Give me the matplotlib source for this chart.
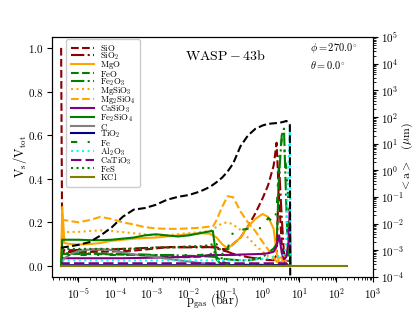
import matplotlib
matplotlib.use('Agg')
import matplotlib.pyplot as plt
import numpy as np

plt.rcParams['font.family'] = 'serif'
plt.rcParams['font.serif'] = ['cmr10', 'DejaVu Serif']
plt.rcParams['mathtext.fontset'] = 'cm'
plt.rcParams['axes.formatter.use_mathtext'] = True

# log10 of gas pressure (bar) for the cloud profile
log_p = [-5.47, -5.44, -5.38, -5.2, -5.0, -4.7, -4.4, -4.1, -3.8, -3.5, -3.2, -2.9,
         -2.6, -2.3, -2.0, -1.7, -1.45, -1.35, -1.25, -1.1, -0.95, -0.8, -0.6, -0.4,
         -0.2, 0.0, 0.15, 0.3, 0.38, 0.45, 0.52, 0.58, 0.64, 0.70, 0.74, 0.76]

# volume fractions V_s/V_tot
sio = [1.0, 0.064, 0.064, 0.064, 0.064, 0.064, 0.065, 0.066, 0.068, 0.07, 0.075, 0.08,
       0.086, 0.087, 0.087, 0.087, 0.088, 0.089, 0.085, 0.078, 0.075, 0.1, 0.13, 0.18,
       0.24, 0.31, 0.37, 0.46, 0.565, 0.3, 0.1, 0.03, 0.0, 0.0, 0.0, 0.0]
sio2 = [0.0, 0.072, 0.072, 0.072, 0.073, 0.074, 0.075, 0.076, 0.078, 0.08, 0.082, 0.084,
        0.085, 0.085, 0.085, 0.085, 0.086, 0.085, 0.08, 0.072, 0.065, 0.055, 0.048, 0.04,
        0.035, 0.03, 0.027, 0.026, 0.05, 0.45, 0.22, 0.06, 0.01, 0.0, 0.0, 0.0]
mgo = [0.0, 0.27, 0.105, 0.1, 0.098, 0.1, 0.105, 0.115, 0.12, 0.125, 0.128, 0.13,
       0.135, 0.14, 0.145, 0.15, 0.148, 0.14, 0.13, 0.1, 0.08, 0.1, 0.13, 0.18,
       0.215, 0.238, 0.225, 0.17, 0.06, 0.015, 0.02, 0.04, 0.01, 0.0, 0.0, 0.0]
feo = [0.0, 0.055, 0.055, 0.055, 0.055, 0.055, 0.054, 0.053, 0.052, 0.05, 0.05, 0.048,
       0.045, 0.04, 0.04, 0.042, 0.05, 0.06, 0.04, 0.02, 0.01, 0.005, 0.005, 0.005,
       0.005, 0.005, 0.005, 0.005, 0.005, 0.005, 0.005, 0.005, 0.0, 0.0, 0.0, 0.0]
fe2o3 = [0.0, 0.058, 0.058, 0.058, 0.057, 0.057, 0.056, 0.055, 0.054, 0.053, 0.052, 0.05,
         0.05, 0.048, 0.046, 0.045, 0.043, 0.042, 0.04, 0.035, 0.03, 0.028, 0.025, 0.025,
         0.03, 0.04, 0.06, 0.08, 0.1, 0.42, 0.6, 0.63, 0.3, 0.0, 0.0, 0.0]
mgsio3 = [0.0, 0.155, 0.155, 0.156, 0.156, 0.16, 0.163, 0.16, 0.155, 0.15, 0.145, 0.14,
          0.14, 0.145, 0.15, 0.155, 0.16, 0.165, 0.18, 0.195, 0.2, 0.19, 0.165, 0.13,
          0.095, 0.065, 0.045, 0.03, 0.02, 0.015, 0.01, 0.0, 0.0, 0.0, 0.0, 0.0]
mg2sio4 = [0.0, 0.21, 0.21, 0.205, 0.2, 0.21, 0.225, 0.215, 0.2, 0.19, 0.178, 0.172,
           0.17, 0.17, 0.172, 0.175, 0.18, 0.18, 0.21, 0.27, 0.32, 0.315, 0.25, 0.2,
           0.16, 0.11, 0.075, 0.04, 0.02, 0.035, 0.04, 0.01, 0.0, 0.0, 0.0, 0.0]
casio3 = [0.0, 0.035, 0.035, 0.035, 0.035, 0.035, 0.035, 0.035, 0.035, 0.036, 0.037, 0.038,
          0.039, 0.04, 0.042, 0.045, 0.048, 0.05, 0.05, 0.05, 0.05, 0.05, 0.052, 0.053,
          0.054, 0.055, 0.058, 0.065, 0.09, 0.14, 0.06, 0.03, 0.04, 0.1, 0.27, 0.0]
fe2sio4 = [0.0, 0.12, 0.12, 0.12, 0.12, 0.118, 0.118, 0.12, 0.125, 0.13, 0.14, 0.145,
           0.14, 0.135, 0.14, 0.15, 0.158, 0.16, 0.03, 0.0, 0.0, 0.0, 0.0, 0.0,
           0.0, 0.0, 0.0, 0.0, 0.0, 0.0, 0.0, 0.0, 0.0, 0.0, 0.0, 0.0]
carbon = [0.0, 0.02, 0.035, 0.055, 0.068, 0.075, 0.078, 0.072, 0.062, 0.053, 0.047, 0.04,
          0.033, 0.026, 0.02, 0.013, 0.01, 0.008, 0.006, 0.004, 0.003, 0.002, 0.002, 0.002,
          0.002, 0.002, 0.002, 0.002, 0.002, 0.002, 0.002, 0.002, 0.0, 0.0, 0.0, 0.0]
tio2 = [0.0, 0.003, 0.003, 0.003, 0.003, 0.003, 0.003, 0.003, 0.003, 0.003, 0.003, 0.003,
        0.003, 0.003, 0.003, 0.003, 0.003, 0.003, 0.003, 0.003, 0.003, 0.003, 0.003, 0.003,
        0.003, 0.003, 0.003, 0.003, 0.003, 0.003, 0.003, 0.003, 0.003, 0.0, 0.0, 0.0]
fe = [0.0, 0.05, 0.05, 0.05, 0.05, 0.05, 0.05, 0.05, 0.05, 0.05, 0.05, 0.05,
      0.05, 0.05, 0.05, 0.05, 0.055, 0.06, 0.065, 0.07, 0.08, 0.156, 0.165, 0.17,
      0.17, 0.175, 0.22, 0.2, 0.25, 0.5, 0.58, 0.55, 0.45, 0.3, 0.0, 0.0]
al2o3 = [0.0, 0.025, 0.025, 0.025, 0.025, 0.025, 0.025, 0.025, 0.025, 0.025, 0.025, 0.025,
         0.025, 0.025, 0.025, 0.025, 0.025, 0.025, 0.025, 0.025, 0.025, 0.026, 0.027, 0.028,
         0.03, 0.032, 0.035, 0.04, 0.042, 0.044, 0.046, 0.05, 0.1, 0.45, 0.62, 0.0]
catio3 = [0.0, 0.012, 0.012, 0.012, 0.012, 0.012, 0.012, 0.012, 0.012, 0.012, 0.012, 0.012,
          0.012, 0.012, 0.012, 0.012, 0.012, 0.012, 0.012, 0.012, 0.012, 0.012, 0.012, 0.012,
          0.012, 0.012, 0.012, 0.012, 0.012, 0.012, 0.012, 0.012, 0.012, 0.0, 0.0, 0.0]
fes = [0.0, 0.078, 0.078, 0.078, 0.078, 0.078, 0.078, 0.078, 0.078, 0.078, 0.078, 0.085,
       0.085, 0.085, 0.09, 0.09, 0.095, 0.1, 0.1, 0.06, 0.0, 0.0, 0.0, 0.0,
       0.0, 0.0, 0.0, 0.0, 0.0, 0.0, 0.0, 0.0, 0.0, 0.0, 0.0, 0.0]

# KCl runs to the bottom of the grid
log_p_kcl = [-5.47, 2.3]
kcl = [0.0, 0.0]

# log10 of mean particle size <a> (micron), right axis
log_a = [-2.9, -2.9, -2.89, -2.85, -2.8, -2.7, -2.45, -2.15, -1.75, -1.48, -1.42, -1.3,
         -1.11, -1.0, -0.93, -0.8, -0.64, -0.55, -0.45, -0.28, -0.05, 0.25, 0.9, 1.3,
         1.55, 1.68, 1.74, 1.76, 1.77, 1.78, 1.8, 1.82, 1.85, 1.8, 1.7, -10.0]

species = [
    (sio, r'$\mathrm{SiO}$', 'darkred', '--'),
    (sio2, r'$\mathrm{SiO_2}$', 'darkred', '-.'),
    (mgo, r'$\mathrm{MgO}$', 'orange', '-'),
    (feo, r'$\mathrm{FeO}$', 'green', '--'),
    (fe2o3, r'$\mathrm{Fe_2O_3}$', 'green', '-.'),
    (mgsio3, r'$\mathrm{MgSiO_3}$', 'orange', ':'),
    (mg2sio4, r'$\mathrm{Mg_2SiO_4}$', 'orange', '--'),
    (casio3, r'$\mathrm{CaSiO_3}$', 'purple', '-'),
    (fe2sio4, r'$\mathrm{Fe_2SiO_4}$', 'green', '-'),
    (carbon, r'$\mathrm{C}$', 'grey', '-'),
    (tio2, r'$\mathrm{TiO_2}$', 'navy', '-'),
    (fe, r'$\mathrm{Fe}$', 'green', (0, (3, 5, 1, 5))),
    (al2o3, r'$\mathrm{Al_2O_3}$', 'cyan', ':'),
    (catio3, r'$\mathrm{CaTiO_3}$', 'purple', (0, (5, 2))),
    (fes, r'$\mathrm{FeS}$', 'green', ':'),
]

# texts are all mathtext (cm glyphs); this family only gives them sane box metrics
box_family = 'DejaVu Serif'

fig = plt.figure(figsize=(4.15, 3.11), dpi=100)
ax = fig.add_axes([0.125, 0.11, 0.774, 0.771])

p = 10 ** np.array(log_p)
for vals, name, col, ls in species:
    ax.plot(p, vals, color=col, linestyle=ls, linewidth=1.5, label=name)
ax.plot(10 ** np.array(log_p_kcl), kcl, color='olive', linestyle='-', linewidth=1.5,
        label=r'$\mathrm{KCl}$')

ax.set_xscale('log')
ax.set_xlim(1.9e-6, 1e3)
ax.set_ylim(-0.05, 1.05)
ax.set_yticks([0.0, 0.2, 0.4, 0.6, 0.8, 1.0])
ax.tick_params(axis='y', labelsize=8, pad=2.5)
ax.tick_params(axis='x', labelsize=8, pad=3.5)
ax.set_xlabel(r'$\mathrm{p_{gas}\ (bar)}$', fontsize=9, family=box_family)
ax.set_ylabel(r'$\mathrm{V_s/V_{tot}}$', fontsize=9, family=box_family)
ax.xaxis.set_label_coords(0.5, -0.065)
ax.yaxis.set_label_coords(-0.07, 0.5)

ax.legend(loc='upper left', bbox_to_anchor=(0.04, 1.0),
          prop={'family': box_family, 'size': 6.3},
          handlelength=2.7, handleheight=1.1, handletextpad=0.6, labelspacing=-0.3,
          borderaxespad=0.2, borderpad=0.5, framealpha=1.0)

ax.text(0.54, 0.92, r'$\mathrm{WASP-43b}$', transform=ax.transAxes, fontsize=10,
        ha='center', va='center', family=box_family)
ax.text(0.805, 0.955, r'$\phi=270.0^{\circ}$', transform=ax.transAxes, fontsize=7.5,
        ha='left', va='center', family=box_family)
ax.text(0.805, 0.885, r'$\theta=0.0^{\circ}$', transform=ax.transAxes, fontsize=7.5,
        ha='left', va='center', family=box_family)

ax2 = ax.twinx()
ax2.plot(p, 10 ** np.array(log_a), color='black', linestyle='--', linewidth=1.5)
ax2.set_yscale('log')
ax2.set_ylim(1e-4, 1e5)
ax2.set_yticks([10.0 ** k for k in range(-4, 6)])
ax2.tick_params(labelsize=8, pad=2)
ax2.set_ylabel(r'$<\mathrm{a}>\quad(\mu\mathrm{m})$', fontsize=8.5, family=box_family)
ax2.yaxis.set_label_coords(1.082, 0.5)

fig.savefig('out.png', dpi=100)
